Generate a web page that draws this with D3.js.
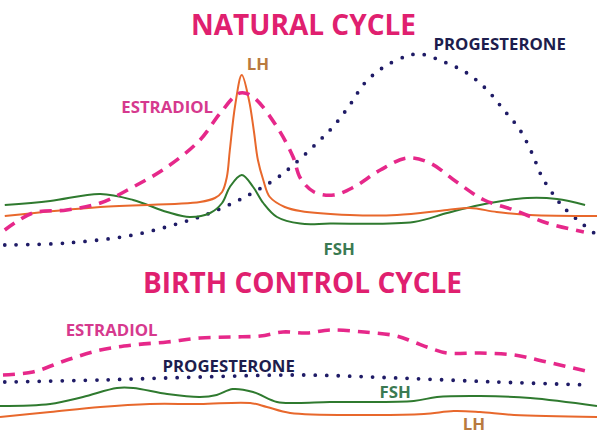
<!DOCTYPE html>
<html><head><meta charset="utf-8">
<script src="https://cdn.jsdelivr.net/npm/d3@7"></script>
<style>
html,body{margin:0;padding:0;background:#fff;}
svg{display:block;font-family:"Open Sans",sans-serif;}
</style></head>
<body>
<svg id="c" width="597" height="435"></svg>
<script>
// x = % of cycle, y = relative hormone level (0-100)
const natLH = [[0.8,17],[16.8,21.5],[33.5,24],[36.0,26],[37.2,29],[38.0,36.5],[38.5,50],[39.4,72.5],[40.5,87.5],[41.7,75],[42.5,60],[43.2,45],[44.1,35],[45.2,26.5],[47.7,21.5],[50.3,19.5],[58.6,17.5],[66.5,17.5],[74.9,20],[78.7,21],[83.2,19],[88.8,17.5],[100,17]];
const natFSH = [[0.8,22.5],[8.4,24.5],[16.8,28],[22.3,25],[28.0,19],[31.8,16.5],[35.2,18.5],[37.2,23.5],[38.5,31.5],[40.5,37.5],[42.4,31.5],[44.1,23.5],[46.4,16.5],[50.3,13.2],[55.3,13.2],[69.3,14],[74.9,18.5],[80.4,22.5],[88.3,26],[93.3,25.5],[98.0,22.5]];
const natEstradiol = [[0.8,10],[5.5,18.5],[11.2,20],[16.8,23.5],[22.3,31.5],[28.0,41.5],[33.5,55],[36.9,68.5],[40.2,78.5],[42.4,76.5],[46.4,61.5],[49.1,46.5],[50.3,36],[52.6,29],[55.9,27.5],[59.3,31.5],[63.7,40],[68.2,46],[72.0,43.5],[76.5,34],[81.1,25],[86.1,20],[91.6,13.5],[97.8,9]];
const natProgesterone = [[0.8,2.5],[11.2,3.5],[22.3,7.5],[30.7,14],[35.2,18.5],[40.7,26],[46.4,36],[49.7,44],[53.1,53.5],[55.9,62],[58.6,72.5],[61.1,83.5],[64.3,91.5],[68.2,97],[70.4,98],[74.4,94],[78.2,88.5],[81.6,80],[84.4,70],[87.1,60],[89.1,48.5],[90.8,36.5],[93.0,26.5],[94.5,21],[97.8,12.5],[99.5,8.5]];

const bcEstradiol = [[0.5,55],[5.5,58],[11.2,70],[16.8,80],[22.3,85],[28.0,88],[33.5,92],[39.0,93],[43.6,94],[47.4,98],[51.4,97],[55.3,100],[61.0,98],[66.5,94],[69.3,88],[72.0,82],[74.9,77],[80.4,77],[86.1,75],[91.6,68],[98.8,58]];
const bcProgesterone = [[0.8,48],[16.8,50],[33.5,53],[50.3,55],[66.5,52],[83.2,48],[98.8,45]];
const bcFSH = [[0,24],[8.4,26],[13.9,33],[19.6,42],[22.3,42],[28.0,36],[33.5,33],[36.3,35],[39.0,41],[42.4,38],[46.4,28],[49.7,27],[55.3,28],[69.3,29],[73.2,33],[80.4,34],[88.8,32],[100,24]];
const bcLH = [[0,13],[8.4,18],[16.8,23],[25.1,26],[33.5,26],[41.9,27],[44.7,23],[48.6,17],[61.0,15],[71.0,16],[76.0,19],[80.4,18],[86.1,15],[100,13]];

const titles = ["NATURAL CYCLE", "BIRTH CONTROL CYCLE"];

const svg = d3.select("#c");
const x = d3.scaleLinear().domain([0,100]).range([0,597]);
const yTop = d3.scaleLinear().domain([0,100]).range([250,50]);
const yBot = d3.scaleLinear().domain([0,100]).range([430,330]);

const styles = {
  LH: {stroke:"#e8682c", width:2, dash:null, cap:"butt", label:"#b97a3f"},
  FSH: {stroke:"#2f7a2f", width:2, dash:null, cap:"butt", label:"#3b7a52"},
  ESTRADIOL: {stroke:"#e6288a", width:3.6, dash:"12 8", cap:"butt", label:"#d6398e"},
  PROGESTERONE: {stroke:"#1f1b66", width:3.8, dash:"0 11.5", cap:"round", label:"#1d1d4d"}
};

function drawSeries(data, yScale, name){
  const s = styles[name];
  const line = d3.line().x(d=>x(d[0])).y(d=>yScale(d[1])).curve(d3.curveCatmullRom.alpha(0.5));
  svg.append("path").datum(data)
    .attr("d", line).attr("fill","none")
    .attr("stroke", s.stroke).attr("stroke-width", s.width)
    .attr("stroke-dasharray", s.dash).attr("stroke-linecap", s.cap);
}

drawSeries(natProgesterone, yTop, "PROGESTERONE");
drawSeries(natFSH, yTop, "FSH");
drawSeries(natLH, yTop, "LH");
drawSeries(natEstradiol, yTop, "ESTRADIOL");

drawSeries(bcProgesterone, yBot, "PROGESTERONE");
drawSeries(bcEstradiol, yBot, "ESTRADIOL");
drawSeries(bcFSH, yBot, "FSH");
drawSeries(bcLH, yBot, "LH");

// titles
svg.append("text").text(titles[0]).attr("x", 303.5).attr("y", 35)
  .attr("text-anchor","middle").attr("font-size",28).attr("font-weight",700)
  .attr("fill","#e0206f");
svg.append("text").text(titles[1]).attr("x", 302.5).attr("y", 293)
  .attr("text-anchor","middle").attr("font-size",28).attr("font-weight",700)
  .attr("fill","#e0206f");

// series labels: [name, x%, panel, level]
const labels = [
  ["LH", 43.2, "top", 90],
  ["ESTRADIOL", 28.0, "top", 68.5],
  ["PROGESTERONE", 83.7, "top", 100],
  ["FSH", 56.8, "top", -2.5],
  ["ESTRADIOL", 18.7, "bot", 94],
  ["PROGESTERONE", 38.3, "bot", 58],
  ["FSH", 66.2, "bot", 32],
  ["LH", 79.4, "bot", 0]
];
labels.forEach(([n, xv, p, lv]) => {
  const ys = p === "top" ? yTop : yBot;
  svg.append("text").text(n).attr("x", x(xv)).attr("y", ys(lv))
    .attr("text-anchor","middle").attr("font-size", 16.8).attr("font-weight",700)
    .attr("fill", styles[n].label);
});
</script>
</body></html>
